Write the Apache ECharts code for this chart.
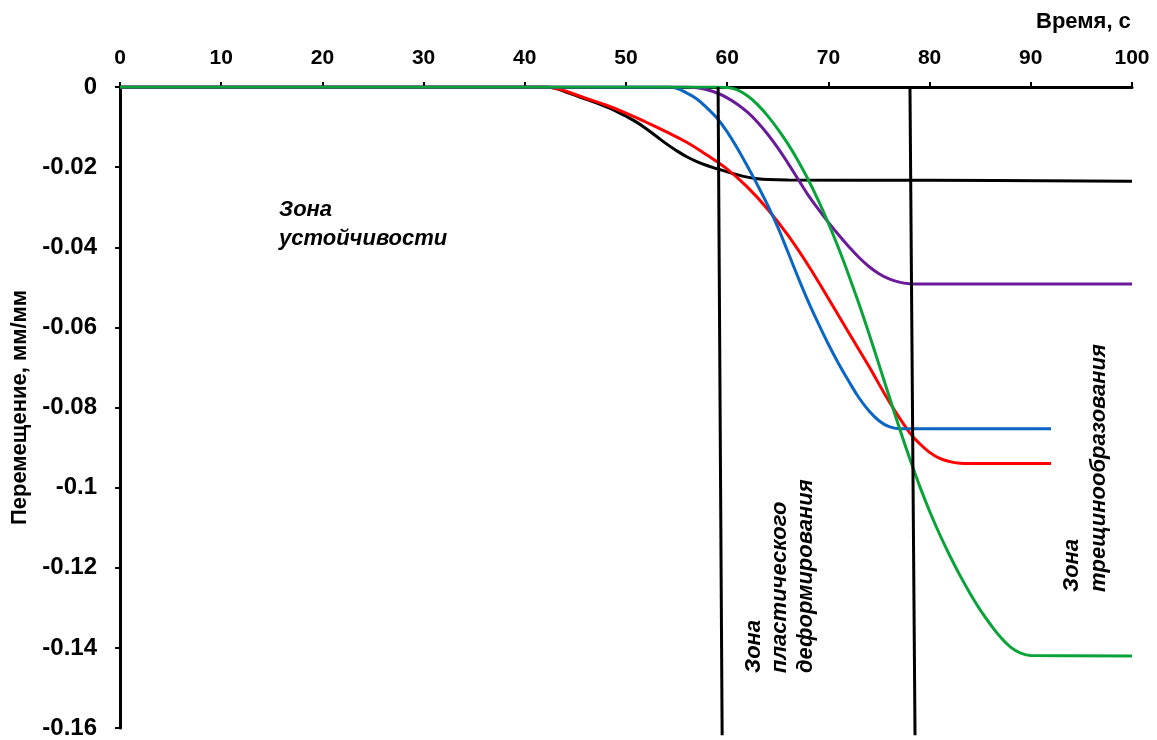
<!DOCTYPE html>
<html>
<head>
<meta charset="utf-8">
<script src="https://cdn.jsdelivr.net/npm/echarts@6/dist/echarts.min.js"></script>
<style>html,body{margin:0;padding:0;background:#fff}#c{width:1157px;height:740px}</style>
</head>
<body>
<div id="c"></div>
<script>
// Time (s) ticks
var xTicks = [0, 10, 20, 30, 40, 50, 60, 70, 80, 90, 100];
var yTicks = [0, -0.02, -0.04, -0.06, -0.08, -0.1, -0.12, -0.14, -0.16];

// Curves: [time, displacement]
var blackCurve = [[0,0],[42,0],[43,-0.0003],[44,-0.0012],[45,-0.0021],[46,-0.003],[47,-0.0039],[48,-0.0049],[49,-0.006],[50,-0.0073],[51,-0.0087],[52,-0.0104],[53,-0.0123],[54,-0.0142],[55,-0.0159],[56,-0.0174],[57,-0.0186],[58,-0.0196],[59,-0.0204],[60,-0.0212],[61,-0.0219],[62,-0.0225],[63,-0.0229],[64,-0.0231],[66,-0.0232],[80,-0.0233],[100,-0.0235]];
var redCurve = [[0,0],[42,0],[43,-0.0003],[44,-0.001],[46,-0.0028],[48,-0.0045],[50,-0.0065],[52,-0.0088],[54,-0.0112],[56,-0.0138],[58,-0.017],[60,-0.0205],[62,-0.025],[64,-0.0305],[66,-0.037],[68,-0.0445],[70,-0.0528],[72,-0.0613],[74,-0.0697],[76,-0.0785],[78,-0.0862],[79,-0.089],[80,-0.0912],[81,-0.0927],[82,-0.0935],[83,-0.0939],[84,-0.094],[92,-0.094]];
var blueCurve = [[0,0],[54,0],[55,-0.0003],[56,-0.0015],[57,-0.003],[58,-0.0052],[59,-0.0078],[60,-0.0112],[61,-0.0153],[62,-0.0198],[63,-0.0245],[64,-0.0295],[65,-0.035],[66,-0.0412],[67,-0.0475],[68,-0.0535],[69,-0.059],[70,-0.0642],[71,-0.069],[72,-0.0734],[73,-0.0775],[74,-0.0808],[75,-0.0833],[76,-0.0848],[77,-0.0853],[78,-0.0853],[92,-0.0853]];
var purpleCurve = [[0,0],[56,0],[57,-0.0002],[58,-0.0007],[59,-0.0015],[60,-0.0027],[61,-0.0043],[62,-0.0063],[63,-0.0088],[64,-0.0118],[65,-0.0152],[66,-0.019],[67,-0.023],[68,-0.027],[69,-0.0305],[70,-0.0338],[71,-0.0369],[72,-0.0398],[73,-0.0425],[74,-0.0448],[75,-0.0466],[76,-0.0479],[77,-0.0487],[78,-0.0491],[79,-0.0492],[100,-0.0492]];
var greenCurve = [[0,0],[59,0],[60,-0.0001],[61,-0.0007],[62,-0.0022],[63,-0.0044],[64,-0.0072],[65,-0.0105],[66,-0.0142],[67,-0.0184],[68,-0.0231],[69,-0.0283],[70,-0.034],[71,-0.0402],[72,-0.0469],[73,-0.054],[74,-0.0615],[75,-0.0693],[76,-0.0772],[77,-0.085],[78,-0.0925],[79,-0.0995],[80,-0.1059],[81,-0.1117],[82,-0.117],[83,-0.1219],[84,-0.1264],[85,-0.1305],[86,-0.1341],[87,-0.1373],[88,-0.1398],[89,-0.1413],[90,-0.1419],[100,-0.142]];

// Zone boundary lines
var boundary1 = [[59.1,0],[59.5,-0.1618]];
var boundary2 = [[78.06,0],[78.56,-0.1618]];

var FONT = '"Liberation Sans", Arial, sans-serif';

var chart = echarts.init(document.getElementById('c'), null, {renderer:'canvas'});

function curve(name, data, color){
  return {name:name, type:'line', data:data, showSymbol:false, smooth:0.4,
    lineStyle:{color:color, width:3}, itemStyle:{color:color}, z:3, animation:false};
}
function vline(data){
  return {type:'line', data:data, showSymbol:false, clip:false,
    lineStyle:{color:'#000', width:3}, z:4, animation:false};
}

var option = {
  backgroundColor:'#fff',
  animation:false,
  grid:{left:120, right:25, top:87, bottom:12, containLabel:false},
  xAxis:{
    type:'value', position:'top', min:0, max:100, interval:10,
    axisLine:{show:true, onZero:false, lineStyle:{color:'#000', width:3}},
    axisTick:{show:true, inside:false, length:5, lineStyle:{color:'#000', width:2}},
    axisLabel:{color:'#000', fontFamily:FONT, fontWeight:'bold', fontSize:21, margin:18,
      formatter:function(v){return xTicks.indexOf(v)>=0 ? String(v) : '';}},
    splitLine:{show:false}
  },
  yAxis:{
    type:'value', min:-0.16, max:0, interval:0.02,
    name:'Перемещение, мм/мм', nameLocation:'middle', nameGap:86, nameRotate:90,
    nameTextStyle:{color:'#000', fontFamily:FONT, fontWeight:'bold', fontSize:22},
    axisLine:{show:true, onZero:false, lineStyle:{color:'#000', width:3}},
    axisTick:{show:true, inside:false, length:5, lineStyle:{color:'#000', width:2}},
    axisLabel:{color:'#000', fontFamily:FONT, fontWeight:'bold', fontSize:24, margin:23,
      formatter:function(v){var r=+v.toFixed(2); for(var i=0;i<yTicks.length;i++){if(Math.abs(yTicks[i]-r)<1e-9) return r===0?'0':String(r);} return '';}},
    splitLine:{show:false}
  },
  series:[
    curve('black', blackCurve, '#000000'),
    curve('red', redCurve, '#ff0000'),
    curve('blue', blueCurve, '#0a66c2'),
    curve('purple', purpleCurve, '#6a1b9a'),
    curve('green', greenCurve, '#0aa33a'),
    vline(boundary1),
    vline(boundary2)
  ],
  graphic:[
    {type:'text', left:1036, top:11, style:{text:'Время, с', fill:'#000', font:'bold 22px '+FONT}},
    {type:'text', x:279, y:195, style:{text:'Зона\nустойчивости', fill:'#000', font:'italic bold 22px '+FONT, lineHeight:29, textAlign:'left', textVerticalAlign:'top'}},
    {type:'text', x:741, y:673, rotation:Math.PI/2, style:{text:'Зона\nпластического\nдеформирования', fill:'#000', font:'italic bold 22px '+FONT, lineHeight:26, textAlign:'left', textVerticalAlign:'top'}},
    {type:'text', x:1058, y:592, rotation:Math.PI/2, style:{text:'Зона\nтрещинообразования', fill:'#000', font:'italic bold 22px '+FONT, lineHeight:27, textAlign:'left', textVerticalAlign:'top'}}
  ]
};
chart.setOption(option);
</script>
</body>
</html>
